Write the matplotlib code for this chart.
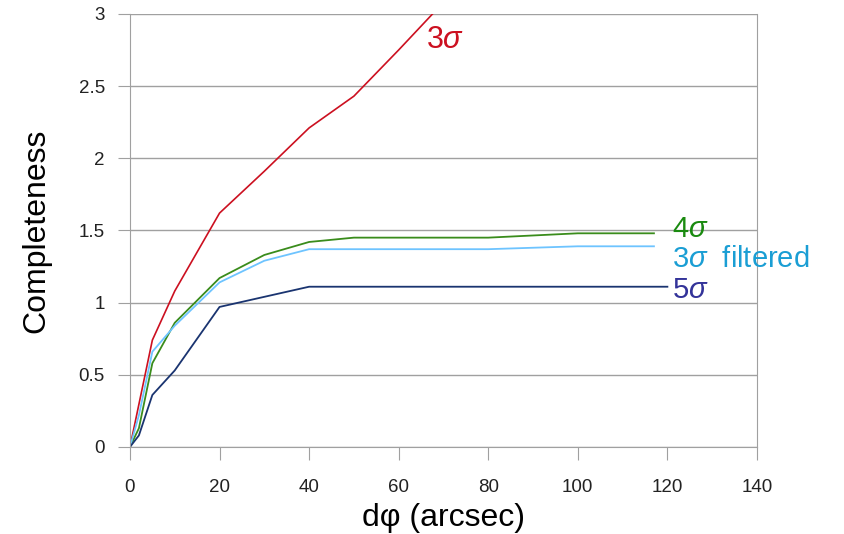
import matplotlib
matplotlib.use('Agg')
import matplotlib.pyplot as plt

plt.rcParams['font.family'] = ['Liberation Sans', 'DejaVu Sans']
plt.rcParams['mathtext.fontset'] = 'custom'
plt.rcParams['mathtext.rm'] = 'Liberation Sans'
plt.rcParams['mathtext.it'] = 'Liberation Sans:italic'

# data
x_3sig = [0, 5, 10, 20, 30, 40, 50, 60, 70]
y_3sig = [0, 0.74, 1.08, 1.62, 1.91, 2.21, 2.43, 2.75, 3.08]

x_4sig = [0, 2, 5, 10, 20, 30, 40, 50, 80, 100, 117]
y_4sig = [0, 0.13, 0.58, 0.86, 1.17, 1.33, 1.42, 1.45, 1.45, 1.48, 1.48]

x_3filt = [0, 2, 5, 10, 20, 30, 40, 80, 100, 117]
y_3filt = [0, 0.22, 0.66, 0.84, 1.14, 1.29, 1.37, 1.37, 1.39, 1.39]

x_5sig = [0, 2, 5, 10, 20, 30, 40, 120]
y_5sig = [0, 0.08, 0.36, 0.53, 0.97, 1.04, 1.11, 1.11]

xticks = [0, 20, 40, 60, 80, 100, 120, 140]
yticks = [0, 0.5, 1, 1.5, 2, 2.5, 3]
ytick_labels = ['0', '0.5', '1', '1.5', '2', '2.5', '3']

fig = plt.figure(figsize=(8.45, 5.34), dpi=100)
ax = fig.add_axes([0.1538, 0.163, 0.742, 0.811])

ax.plot(x_3sig, y_3sig, color='#cc1020', lw=1.2)
ax.plot(x_4sig, y_4sig, color='#3a8c1c', lw=1.3)
ax.plot(x_3filt, y_3filt, color='#6ec4ff', lw=1.3)
ax.plot(x_5sig, y_5sig, color='#1a3470', lw=1.3)

ax.set_xlim(0, 140)
ax.set_ylim(0, 3)
ax.set_xticks(xticks)
ax.set_yticks(yticks)
ax.set_yticklabels(ytick_labels)
ax.yaxis.grid(True, color='#a0a0a0', lw=1)
ax.set_axisbelow(True)
for s in ['left', 'bottom', 'right']:
    ax.spines[s].set_color('#a0a0a0')
ax.spines['top'].set_visible(False)
ax.tick_params(colors='#a0a0a0', length=9, labelsize=13.5, labelcolor='#222222')
ax.tick_params(axis='x', pad=14)
ax.tick_params(axis='y', pad=9)

ax.set_xlabel('d\u03c6 (arcsec)', fontsize=23, labelpad=5)
ax.set_ylabel('Completeness', fontsize=23, labelpad=20)

ax.text(66, 2.82, r'3$\it{\sigma}$', color='#cc1020', fontsize=22, va='center')
ax.text(121, 1.51, r'4$\it{\sigma}$', color='#1a8a10', fontsize=21, va='center', clip_on=False)
ax.text(121, 1.30, r'3$\it{\sigma}$  filtered', color='#1a9ed4', fontsize=21, va='center', clip_on=False)
ax.text(121, 1.09, r'5$\it{\sigma}$', color='#333399', fontsize=21, va='center', clip_on=False)

fig.savefig('out.png', dpi=100)
